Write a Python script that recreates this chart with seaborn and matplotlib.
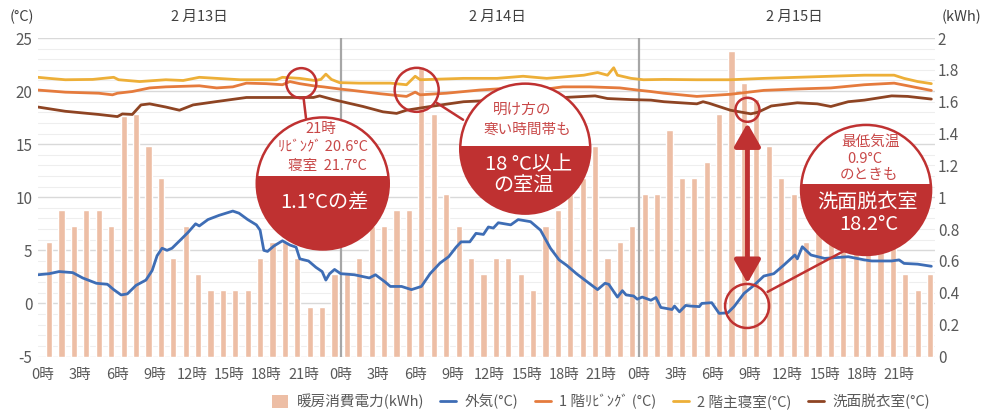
import matplotlib
matplotlib.use("Agg")
import matplotlib.pyplot as plt
import matplotlib.transforms as mtransforms
from matplotlib.patches import Circle, Polygon, Patch, FancyArrowPatch
from matplotlib.lines import Line2D
import seaborn as sns

sns.set_theme(style="white")
plt.rcParams['font.family'] = ['Noto Sans CJK JP', 'DejaVu Sans']

# hourly heating energy (kWh), 3 days
energy_d13 = [0.72, 0.92, 0.82, 0.92, 0.92, 0.82, 1.51, 1.52, 1.32, 1.12, 0.62, 0.82,
              0.52, 0.42, 0.42, 0.42, 0.42, 0.62, 0.72, 0.72, 0.62, 0.31, 0.31, 0.52]
energy_d14 = [0.52, 0.62, 0.82, 0.82, 0.92, 0.92, 1.82, 1.52, 1.02, 0.82, 0.62, 0.52,
              0.62, 0.62, 0.52, 0.42, 0.82, 0.92, 1.02, 1.12, 1.32, 0.62, 0.72, 0.82]
energy_d15 = [1.02, 1.02, 1.42, 1.12, 1.12, 1.22, 1.52, 1.92, 1.72, 1.62, 1.32, 1.12,
              1.02, 0.72, 0.92, 0.82, 0.82, 0.82, 0.72, 0.72, 0.72, 0.52, 0.42, 0.52]
energy = energy_d13 + energy_d14 + energy_d15
bar_hours = list(range(72))

# temperatures (hours from 2/13 0:00, degC)
out_t = [-0.4, 0.5, 1.3, 2.4, 3.2, 4.3, 5.2, 5.7, 6.3, 6.8, 7.5, 8.3, 8.8, 9.2, 9.6, 10.0,
         10.4, 11.1, 11.7, 12.3, 12.6, 13.3, 14.2, 15.3, 15.8, 16.5, 17.2, 17.5, 17.8, 18.1,
         18.6, 19.3, 19.9, 20.4, 20.7, 21.4, 22.0, 22.5, 22.8, 23.1, 23.5, 24.0,
         25.1, 26.3, 26.8, 27.6, 28.0, 28.9, 29.7, 30.5, 31.2, 32.0, 32.7, 33.3, 33.7, 34.4,
         34.9, 35.5, 35.9, 36.3, 36.7, 37.7, 38.3, 39.3, 40.1, 40.9, 41.6, 42.2, 43.0, 43.9,
         44.7, 45.3, 45.6, 46.3, 46.7, 47.0, 47.6, 47.9,
         48.3, 49.0, 49.4, 49.8, 50.7, 50.9, 51.3, 51.8, 52.2, 52.9, 53.1, 53.9, 54.5, 55.2,
         55.7, 56.5, 57.3, 58.1, 58.9, 59.7, 60.6, 60.8, 61.2, 61.9, 63.0, 64.9, 66.2, 66.8,
         68.4, 69.0, 69.4, 70.5, 71.6]
out_v = [2.7, 2.8, 3.0, 2.9, 2.4, 1.9, 1.8, 1.3, 0.8, 0.9, 1.7, 2.2, 3.1, 4.5, 5.2, 5.0,
         5.2, 6.0, 6.7, 7.5, 7.3, 7.9, 8.3, 8.7, 8.5, 7.9, 7.4, 6.9, 5.0, 4.9,
         5.4, 5.9, 5.5, 5.3, 4.2, 4.0, 3.4, 3.0, 2.2, 2.8, 3.2, 2.8,
         2.7, 2.4, 2.7, 2.0, 1.6, 1.6, 1.3, 1.6, 2.8, 3.8, 4.4, 5.3, 5.8, 5.8,
         6.6, 6.5, 7.2, 7.1, 7.6, 7.4, 7.9, 7.7, 6.9, 5.2, 4.1, 3.6, 2.8, 2.0,
         1.3, 1.9, 1.8, 0.6, 1.2, 0.8, 0.7, 0.4,
         0.6, 0.3, 0.56, -0.38, -0.57, -0.25, -0.79, -0.19, -0.25, -0.3, 0.0, 0.07, -0.94, -0.88,
         -0.3, 0.94, 1.7, 2.58, 2.8, 3.6, 4.56, 4.2, 5.34, 4.56, 4.24, 4.4, 4.1, 4.0,
         4.0, 4.1, 3.77, 3.7, 3.5]

living_t = [-0.4, 1.8, 4.5, 5.6, 6.0, 7.2, 8.6, 9.9, 12.6, 14.0, 15.3, 16.4, 18.0, 19.3, 19.9,
            20.7, 21.8, 22.6, 23.9, 24.7, 27.2, 29.3, 30.0, 30.4, 32.5, 35.2, 37.9, 40.6, 41.9,
            44.1, 46.5, 47.9, 49.0, 50.05, 52.7, 55.4, 58.1, 60.8, 63.5, 66.2, 68.6, 69.7, 71.6]
living_v = [20.1, 19.9, 19.8, 19.65, 19.8, 19.96, 20.3, 20.4, 20.5, 20.3, 20.4, 20.75, 20.7, 20.6, 20.9,
            20.7, 20.5, 20.4, 20.2, 20.1, 19.75, 19.5, 19.9, 19.65, 19.8, 20.1, 20.3, 20.2, 20.4,
            20.4, 20.3, 20.1, 19.96, 19.8, 19.5, 19.7, 20.07, 20.2, 20.3, 20.6, 20.75, 20.5, 20.06]

bedroom_t = [-0.4, 0.5, 1.8, 4.0, 5.7, 6.1, 7.8, 9.9, 11.3, 12.6, 14.0, 15.9, 18.8, 19.3, 20.7,
             21.9, 22.4, 22.8, 23.25, 23.9, 25.5, 28.0, 29.3, 30.0, 30.4, 31.2, 33.9, 36.6, 38.7,
             40.6, 43.6, 44.7, 45.5, 46.0, 46.3, 47.4, 48.4, 50.05, 52.7, 55.4, 58.1, 60.8, 63.5,
             66.2, 68.6, 69.4, 70.5, 71.6]
bedroom_v = [21.3, 21.2, 21.07, 21.1, 21.3, 21.07, 20.9, 21.07, 21.0, 21.3, 21.2, 21.07, 21.07, 21.3, 21.2,
             21.0, 21.1, 21.6, 21.1, 20.8, 20.75, 20.75, 20.6, 21.4, 21.07, 21.1, 21.2, 21.2, 21.4,
             21.2, 21.5, 21.75, 21.5, 22.2, 21.5, 21.2, 21.07, 21.1, 21.07, 21.07, 21.2, 21.3, 21.4,
             21.5, 21.5, 21.2, 20.9, 20.7]

wash_t = [-0.4, 1.8, 4.5, 6.0, 6.4, 7.2, 7.9, 8.6, 9.9, 11.0, 12.1, 13.9, 16.4, 19.3, 21.8, 22.3,
          23.4, 24.5, 25.8, 27.4, 28.5, 29.3, 31.2, 33.9, 36.6, 39.3, 42.0, 44.5, 45.5, 47.4,
          49.0, 50.05, 52.7, 53.2, 53.7, 55.4, 57.05, 57.6, 58.7, 60.8, 62.4, 63.5, 64.9, 66.2,
          68.4, 69.7, 71.6]
wash_v = [18.5, 18.1, 17.8, 17.6, 17.85, 17.8, 18.7, 18.8, 18.5, 18.2, 18.7, 19.0, 19.4, 19.4, 19.4, 19.55,
          19.2, 18.9, 18.55, 18.05, 17.9, 18.2, 18.55, 19.0, 19.15, 19.3, 19.4, 19.55, 19.3, 19.2,
          19.15, 19.0, 18.8, 19.0, 18.85, 18.2, 17.86, 18.0, 18.6, 18.9, 18.8, 18.55, 19.0, 19.15,
          19.55, 19.5, 19.25]

day_labels = ["2 月13日", "2 月14日", "2 月15日"]
hour_labels = ["0時", "3時", "6時", "9時", "12時", "15時", "18時", "21時"] * 3
left_labels = ["-5", "0", "5", "10", "15", "20", "25"]
right_labels = ["0", "0.2", "0.4", "0.6", "0.8", "1", "1.2", "1.4", "1.6", "1.8", "2"]
legend_labels = ["暖房消費電力(kWh)", "外気(°C)", "1 階ﾘﾋﾞﾝｸﾞ (°C)", "2 階主寝室(°C)", "洗面脱衣室(°C)"]

c_bar = "#EDBEA5"
c_out = "#3E6DB5"
c_liv = "#E57B3D"
c_bed = "#EDAF38"
c_wash = "#8E4423"
red = "#BF3131"
red_txt = "#C84848"
gray = "#595959"

fig = plt.figure(figsize=(9.82, 4.12), dpi=100)
ax_e = fig.add_axes([0.0387, 0.1347, 0.9135, 0.773])
ax_t = ax_e.twinx()

t_min, t_max = -5, 25
for deg in range(t_min, t_max + 1):
    k = (deg - t_min) / (t_max - t_min) * 2
    ax_e.axhline(k, color="#D9D9D9" if deg % 5 == 0 else "#EEEEEE",
                 lw=1.0 if deg % 5 == 0 else 0.8, zorder=0)

sns.barplot(x=[h + 0.5 for h in bar_hours], y=energy, native_scale=True, width=0.5,
            color=c_bar, saturation=1, errorbar=None, ax=ax_e, zorder=2)

for tt, vv, cc in [(out_t, out_v, c_out), (living_t, living_v, c_liv),
                   (bedroom_t, bedroom_v, c_bed), (wash_t, wash_v, c_wash)]:
    sns.lineplot(x=tt, y=vv, color=cc, linewidth=2.0, ax=ax_t, legend=False)

for d in (24, 48):
    ax_t.axvline(d, color="#A6A6A6", lw=1.6, zorder=1)

ax_e.set_xlim(-0.4, 71.9)
ax_e.set_ylim(0, 2)
ax_t.set_ylim(t_min, t_max)
ax_e.set_xticks(list(range(0, 72, 3)))
ax_e.set_xticklabels(hour_labels)
ax_e.set_yticks([i * 0.2 for i in range(11)])
ax_e.set_yticklabels(right_labels)
ax_t.set_yticks(list(range(-5, 26, 5)))
ax_t.set_yticklabels(left_labels)
ax_e.yaxis.set_ticks_position("right")
ax_t.yaxis.set_ticks_position("left")
ax_e.set_xlabel("")
ax_e.set_ylabel("")
ax_t.set_ylabel("")
ax_e.tick_params(axis="x", length=0, pad=8, labelsize=10.5, labelcolor=gray)
ax_e.tick_params(axis="y", length=0, pad=2, labelsize=11, labelcolor=gray)
ax_t.tick_params(axis="y", length=0, pad=4, labelsize=11, labelcolor=gray)
for a in (ax_e, ax_t):
    for s in a.spines.values():
        s.set_visible(False)

top = mtransforms.blended_transform_factory(ax_t.transData, ax_t.transAxes)
for i, lab in enumerate(day_labels):
    ax_t.text(i * 24 + 12.6, 1.067, lab, transform=top, ha="center", va="center",
              fontsize=10.5, color="#404040")
ax_t.text(-0.018, 1.067, "(°C)", transform=ax_t.transAxes, ha="center", va="center",
          fontsize=10.5, color="#404040")
ax_t.text(1.03, 1.067, "(kWh)", transform=ax_t.transAxes, ha="center", va="center",
          fontsize=10.5, color="#404040")

handles = [Patch(facecolor=c_bar, edgecolor="none")] + \
          [Line2D([0], [0], color=c, lw=2) for c in (c_out, c_liv, c_bed, c_wash)]
fig.legend(handles, legend_labels, loc="center", bbox_to_anchor=(0.612, 0.025), ncol=5,
           frameon=False, handlelength=1.1, handleheight=1.0, handletextpad=0.6,
           columnspacing=1.1, fontsize=10.5, labelcolor=gray)


# --- annotations ---
def anchored(t, T):
    return fig.dpi_scale_trans + mtransforms.ScaledTranslation(t, T, ax_t.transData)


def ring(t, T, r):
    ax_t.add_patch(Circle((0, 0), r / 100, transform=anchored(t, T), fc="none",
                          ec=red, lw=1.8, zorder=20, clip_on=False))


def label(t, T, s, dx, dy, size, color):
    tr = mtransforms.offset_copy(ax_t.transData, fig=fig, x=dx, y=-dy, units="dots")
    ax_t.text(t, T, s, transform=tr, ha="center", va="center", fontsize=size,
              color=color, zorder=30)


def bubble(t, T, r, split, upper, lower):
    tr = anchored(t, T)
    R = r / 100
    ax_t.add_patch(Circle((0, 0), R, transform=tr, fc="white", ec="none",
                          zorder=20, clip_on=False))
    fill = Circle((0, 0), R, transform=tr, fc=red, ec="none", zorder=21)
    ax_t.add_patch(fill)
    clip = Polygon([(-R - 0.05, -R - 0.05), (R + 0.05, -R - 0.05),
                    (R + 0.05, split / 100), (-R - 0.05, split / 100)],
                   closed=True, transform=tr)
    fill.set_clip_path(clip)
    ax_t.add_patch(Circle((0, 0), R, transform=tr, fc="none", ec=red, lw=1.8,
                          zorder=22, clip_on=False))
    for s, dx, dy in upper:
        label(t, T, s, dx, dy, 10.5, red_txt)
    for s, dx, dy in lower:
        label(t, T, s, dx, dy, 14.5, "white")


# 21h difference
ring(20.82, 20.75, 15)
ax_t.plot([21.0, 21.2], [19.4, 17.45], color=red, lw=1.8, zorder=19)
bubble(22.55, 11.3, 66, 7,
       [("21時", -2, -54), ("ﾘﾋﾞﾝｸﾞ 20.6°C", 0, -36), ("寝室  21.7°C", 5, -17)],
       [("1.1°Cの差", 2, 20)])

# early morning
ring(30.12, 20.12, 22)
ax_t.plot([31.73, 33.86], [18.9, 17.3], color=red, lw=1.8, zorder=19)
bubble(38.87, 14.58, 65, 3,
       [("明け方の", -3, -39), ("寒い時間帯も", 2, -19)],
       [("18 °C以上", 3, 16), ("の室温", -2, 38)])

# minimum outdoor temp
ring(56.78, 18.24, 12)
ring(56.75, -0.24, 22)
ax_t.add_patch(FancyArrowPatch((56.78, 16.98), (56.78, 1.9),
                               arrowstyle="<|-|>,head_length=0.7,head_width=0.4",
                               mutation_scale=20, lw=3.5, color=red, shrinkA=0, shrinkB=0,
                               zorder=19))
ax_t.plot([58.4, 64.97], [1.09, 5.2], color=red, lw=1.8, zorder=19)
bubble(66.34, 10.69, 65, 6,
       [("最低気温", 4, -48), ("0.9°C", -1, -31), ("のときも", 3, -15)],
       [("洗面脱衣室", 2, 13), ("18.2°C", 3, 35)])

fig.savefig("out.png", dpi=100)
